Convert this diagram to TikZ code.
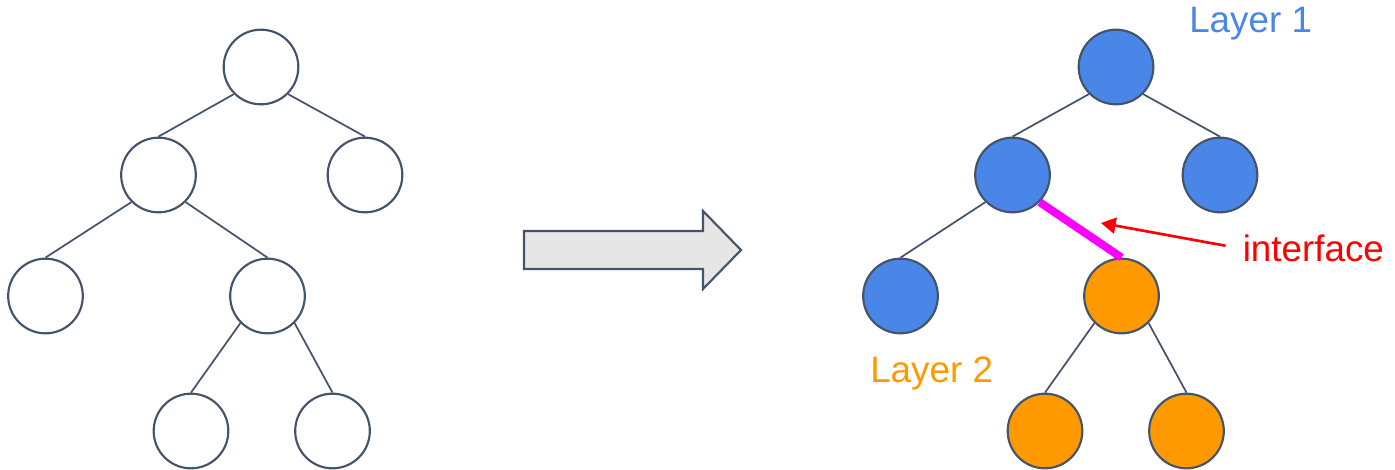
\documentclass[tikz,border=0pt]{standalone}
\usepackage{fontspec}
\setmainfont{Liberation Sans}
\usepackage{tikz}
\usetikzlibrary{arrows.meta, positioning}

\definecolor{slate}{HTML}{44546A}
\definecolor{lblue}{HTML}{4A86E8}
\definecolor{lorange}{HTML}{FF9900}
\definecolor{shade}{HTML}{E7E6E6}
\definecolor{cut}{HTML}{FF00FF}

\tikzset{
  vtx/.style={circle, draw=slate, line width=1.6pt, minimum size=56pt, inner sep=0pt},
  edge/.style={draw=slate, line width=1.3pt},
  tag/.style={anchor=base west, inner sep=0pt, font=\fontsize{27.6}{33}\selectfont}
}

\begin{document}
\begin{tikzpicture}[x=0.75pt, y=-0.75pt]
  \useasboundingbox (0,0) rectangle (1395,470);

  % plain tree
  \node[vtx, fill=white] (u0) at (261,67) {};
  \node[vtx, fill=white] (u1) at (158.5,175) {};
  \node[vtx, fill=white] (u2) at (365,175) {};
  \node[vtx, fill=white] (u3) at (45.5,296) {};
  \node[vtx, fill=white] (u4) at (267.5,296) {};
  \node[vtx, fill=white] (u5) at (191,431) {};
  \node[vtx, fill=white] (u6) at (332.5,431) {};

  \draw[edge] (u0.south west) -- (u1.north);
  \draw[edge] (u0.south east) -- (u2.north);
  \draw[edge] (u1.south west) -- (u3.north);
  \draw[edge] (u1.south east) -- (u4.north);
  \draw[edge] (u4.south west) -- (u5.north);
  \draw[edge] (u4.south east) -- (u6.north);

  % block arrow
  \draw[slate, line width=1.6pt, fill=shade, line join=miter]
    (524,231) -- (703,231) -- (703,211) -- (741,250)
    -- (703,289) -- (703,269) -- (524,269) -- cycle;

  % split tree
  \node[vtx, fill=lblue] (w0) at (1116,67) {};
  \node[vtx, fill=lblue] (w1) at (1012.5,175) {};
  \node[vtx, fill=lblue] (w2) at (1220,175) {};
  \node[vtx, fill=lblue] (w3) at (900.5,296) {};
  \node[vtx, fill=lorange] (w4) at (1121.5,296) {};
  \node[vtx, fill=lorange] (w5) at (1045,431) {};
  \node[vtx, fill=lorange] (w6) at (1186.5,431) {};

  \draw[edge] (w0.south west) -- (w1.north);
  \draw[edge] (w0.south east) -- (w2.north);
  \draw[edge] (w1.south west) -- (w3.north);
  \draw[cut, line width=6pt] (w1.south east) -- (w4.north);
  \draw[edge] (w4.south west) -- (w5.north);
  \draw[edge] (w4.south east) -- (w6.north);

  \node[tag, text=lblue] (lay1) at (1189,33) {Layer 1};
  \node[tag, text=lorange] (lay2) at (870,382) {Layer 2};
  \node[tag, text=red] (iface) at (1242.5,262) {interface};

  \coordinate (ptr) at (1101,223);
  \draw[red, line width=2pt, -{Triangle[length=11pt, width=12pt]}, shorten <=13pt]
    (iface.west) -- (ptr);
\end{tikzpicture}
\end{document}
